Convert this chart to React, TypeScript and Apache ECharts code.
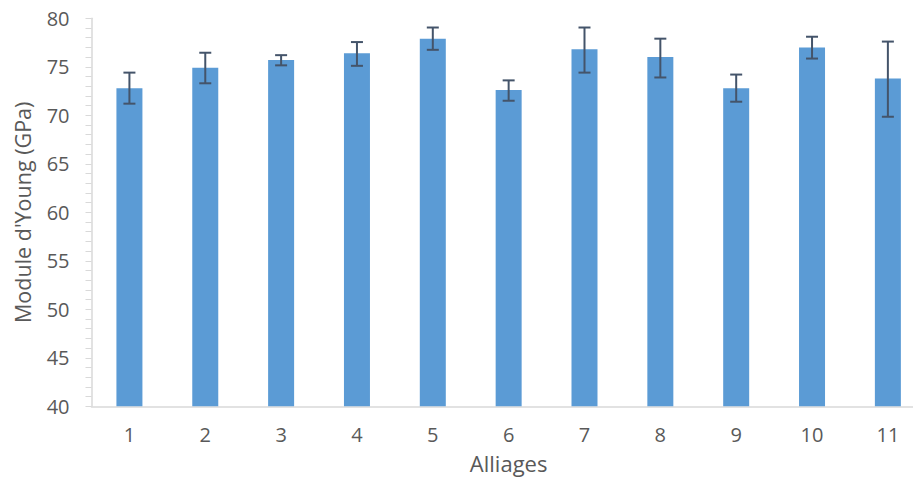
import React, { useEffect, useRef } from "react";
import * as echarts from "echarts";

const categories = ["1", "2", "3", "4", "5", "6", "7", "8", "9", "10", "11"];
const meanValues = [72.8, 74.9, 75.7, 76.4, 77.9, 72.6, 76.8, 76.0, 72.8, 77.0, 73.8];
const errorHigh = [74.4, 76.45, 76.2, 77.55, 79.05, 73.6, 79.05, 77.9, 74.2, 78.1, 77.6];
const errorLow = [71.2, 73.3, 75.15, 75.1, 76.75, 71.5, 74.4, 73.9, 71.4, 75.85, 69.85];

const FONT = "Open Sans";

export default function App() {
  const ref = useRef<HTMLDivElement>(null);
  useEffect(() => {
    if (!ref.current) return;
    const chart = echarts.init(ref.current, undefined, { renderer: "svg" });
    const errData = categories.map((c, i) => [i, errorLow[i], errorHigh[i]]);
    chart.setOption({
      animation: false,
      backgroundColor: "#ffffff",
      textStyle: { fontFamily: FONT },
      grid: { left: 91.5, top: 18.3, width: 834.3, height: 388, containLabel: false },
      xAxis: {
        type: "category",
        data: categories,
        name: "Alliages",
        nameLocation: "middle",
        nameGap: 46,
        nameTextStyle: { fontSize: 22, color: "#595959", fontFamily: FONT },
        axisLine: { show: true, lineStyle: { color: "#d9d9d9", width: 1.5 } },
        axisTick: { show: false },
        axisLabel: { color: "#595959", fontSize: 20, margin: 18, fontFamily: FONT },
        splitLine: { show: false },
      },
      yAxis: {
        type: "value",
        min: 40,
        max: 80,
        interval: 5,
        name: "Module d'Young (GPa)",
        nameLocation: "middle",
        nameGap: 58,
        nameTextStyle: { fontSize: 21.5, color: "#595959", fontFamily: FONT },
        axisLine: { show: true, lineStyle: { color: "#d9d9d9", width: 1.5 } },
        axisTick: { show: true, length: 6, lineStyle: { color: "#d9d9d9" } },
        minorTick: { show: true, splitNumber: 5, length: 6, lineStyle: { color: "#d9d9d9" } },
        axisLabel: { color: "#595959", fontSize: 20, margin: 22, fontFamily: FONT },
        splitLine: { show: false },
      },
      series: [
        {
          type: "bar",
          data: meanValues,
          barWidth: 26,
          itemStyle: { color: "#5B9BD5" },
        },
        {
          type: "custom",
          data: errData,
          z: 10,
          renderItem: (params: any, api: any) => {
            const x = api.value(0);
            const lo = api.coord([x, api.value(1)]);
            const hi = api.coord([x, api.value(2)]);
            const hw = 6;
            const style = { stroke: "#44546A", lineWidth: 2 };
            return {
              type: "group",
              children: [
                { type: "line", shape: { x1: hi[0], y1: hi[1], x2: lo[0], y2: lo[1] }, style },
                { type: "line", shape: { x1: hi[0] - hw, y1: hi[1], x2: hi[0] + hw, y2: hi[1] }, style },
                { type: "line", shape: { x1: lo[0] - hw, y1: lo[1], x2: lo[0] + hw, y2: lo[1] }, style },
              ],
            };
          },
        },
      ],
    });
    return () => chart.dispose();
  }, []);
  return (
    <div
      style={{ position: "fixed", left: 0, top: 0, width: 913, height: 482, overflow: "hidden", background: "#fff" }}
    >
      <div ref={ref} style={{ width: 940, height: 482 }} />
    </div>
  );
}
